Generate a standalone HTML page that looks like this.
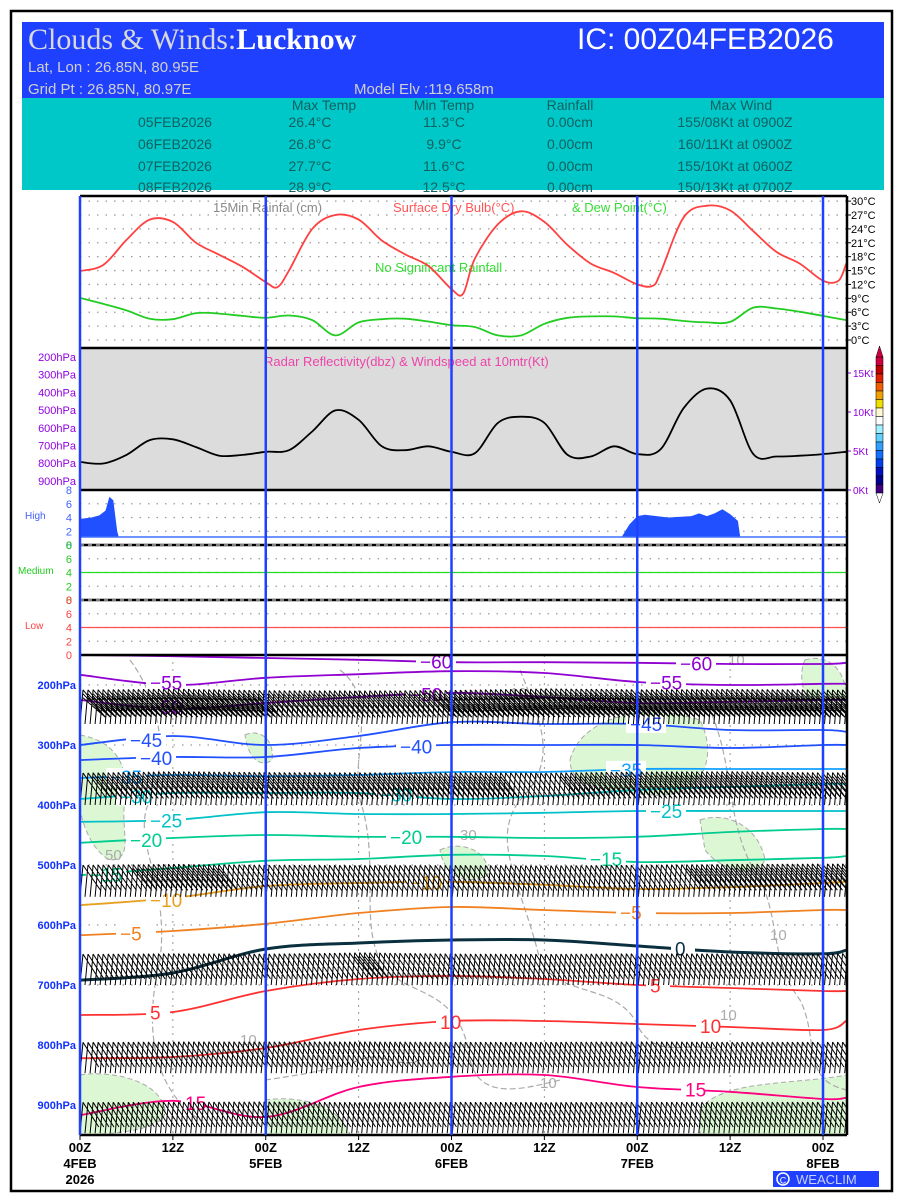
<!DOCTYPE html>
<html><head><meta charset="utf-8"><title>Clouds & Winds: Lucknow</title>
<style>
html,body{margin:0;padding:0;background:#fff;}
svg{display:block;}
text{font-family:"Liberation Sans",sans-serif;}
</style></head>
<body>
<svg id="chart" width="900" height="1200" viewBox="0 0 900 1200" xmlns="http://www.w3.org/2000/svg">
<defs><clipPath id="clipBottom"><rect x="80" y="655" width="767" height="480"/></clipPath></defs>
<rect x="11" y="11" width="881" height="1180" fill="#fff" stroke="#000" stroke-width="2.5"/>
<g>
<rect x="22" y="22" width="862" height="76" fill="#2040ff"/>
<rect x="22" y="98" width="862" height="92" fill="#00c8c8"/>
<text x="28" y="49" font-size="30" fill="#d8d8d8" style="font-family:'Liberation Serif',serif">Clouds &amp; Winds:<tspan fill="#fff" font-weight="bold">Lucknow</tspan></text>
<text x="577" y="49" font-size="30" fill="#fff">IC: 00Z04FEB2026</text>
<text x="28" y="72" font-size="15" fill="#d0d0d0">Lat, Lon : 26.85N, 80.95E</text>
<text x="28" y="94" font-size="15" fill="#d0d0d0">Grid Pt   : 26.85N, 80.97E</text>
<text x="354" y="94" font-size="15" fill="#d0d0d0">Model Elv :119.658m</text>
<g font-size="14" fill="#106060" text-anchor="middle">
<text x="324" y="110">Max Temp</text><text x="444" y="110">Min Temp</text><text x="570" y="110">Rainfall</text><text x="741" y="110">Max Wind</text>
<text x="175" y="127">05FEB2026</text><text x="310" y="127">26.4°C</text><text x="444" y="127">11.3°C</text><text x="570" y="127">0.00cm</text><text x="735" y="127">155/08Kt at 0900Z</text>
<text x="175" y="149">06FEB2026</text><text x="310" y="149">26.8°C</text><text x="444" y="149">9.9°C</text><text x="570" y="149">0.00cm</text><text x="735" y="149">160/11Kt at 0900Z</text>
<text x="175" y="171">07FEB2026</text><text x="310" y="171">27.7°C</text><text x="444" y="171">11.6°C</text><text x="570" y="171">0.00cm</text><text x="735" y="171">155/10Kt at 0600Z</text>
<text x="175" y="192">08FEB2026</text><text x="310" y="192">28.9°C</text><text x="444" y="192">12.5°C</text><text x="570" y="192">0.00cm</text><text x="735" y="192">150/13Kt at 0700Z</text>
</g>
</g>
<g id="plots"></g>
</svg>
<script>
// ---- data ----
const tempHours = [0,3,6,9,12,15,18,21,24,25.5,27,30,33,36,39,42,45,48,49.5,51,54,57,60,63,66,69,72,74,75,78,81,84,87,90,93,96,98,99];
const dryBulb   = [14.9,16.2,21.6,26,25.5,21,18.4,15.8,12.5,11.4,15,24,27,26,21.5,18.5,16,11.0,10.0,17.5,25,27.8,25.5,20.5,16.5,14.5,12.0,11.7,14.5,26.5,29.0,28,23.5,19,16.5,12.8,12.8,16.5];
const dewHours  = [0,3,6,9,12,15,18,21,24,27,30,33,36,39,42,45,48,51,54,57,60,63,66,69,72,75,78,81,84,87,90,93,96,99];
const dewPoint  = [9.1,7.8,6.4,4.6,4.5,5.8,5.7,5.2,4.8,5.3,4.3,1.0,3.8,4.5,4.6,4.0,3.2,2.8,1.0,1.0,3.5,4.8,5.1,5.1,4.7,4.6,4.1,3.8,3.9,7.0,6.8,6.1,5.2,4.3];
const windHours = dewHours;
const wind10m   = [3.6,3.4,4.5,6.4,6.5,5.5,4.4,4.5,4.9,5.1,7.5,10.2,9.0,5.6,5.1,5.6,4.9,4.7,8.6,9.4,8.6,4.5,4.3,5.6,4.6,5.2,10.5,13.0,11.5,4.6,4.3,4.4,4.6,4.9];
const highHours = [0,1.5,2.5,3.3,3.8,4.3,4.8,5.0,70,71,72,73,76,79,80,81,82,83,84,85,85.3];
const highCloud = [3.8,4.0,4.3,5.0,7.0,6.5,2.0,1.2,1.2,3.0,4.2,4.4,4.0,4.2,4.6,4.2,4.6,5.2,4.5,3.5,1.2];
const isoHours  = [0,12,24,36,48,60,72,84,96,99];
const isoLevels = [-60,-55,-50,-45,-40,-35,-30,-25,-20,-15,-10,-5,0,5,10,15];
const iso_m60 = [150,152,155,158,162,162,163,165,165,163];
const iso_m55 = [183,200,188,182,177,180,195,200,198,198];
const iso_m50 = [225,240,230,220,213,220,230,228,225,225];
const iso_m45 = [300,285,300,285,262,265,265,275,275,278];
const iso_m40 = [325,320,320,305,300,300,300,305,300,300];
const iso_m35 = [355,350,352,350,345,345,340,340,340,340];
const iso_m30 = [390,380,380,380,390,385,375,370,365,365];
const iso_m25 = [428,425,412,415,415,413,410,410,410,410];
const iso_m20 = [463,455,450,453,453,455,453,445,440,440];
const iso_m15 = [517,505,493,490,483,485,495,492,488,485];
const iso_m10 = [567,555,535,530,528,533,540,537,530,528];
const iso_m5  = [617,610,598,580,570,575,580,580,575,575];
const iso_0   = [692,680,640,630,625,625,635,645,648,642];
const iso_5   = [750,745,710,690,685,690,700,705,710,710];
const iso_10  = [822,820,805,775,760,760,765,770,775,760];
const iso_15  = [917,893,920,870,853,850,870,878,890,888];
const barbLevels = [265,400,553,700,847,947];
const barbHours  = [0,12,24,36,48,60,72,84,96,99];
const barb265 = [70,85,60,55,65,90,75,80,70,70];
const barb400 = [35,60,45,40,40,35,55,60,40,40];
const barb553 = [30,45,30,25,25,20,30,45,50,50];
const barb700 = [15,25,20,40,20,15,25,20,20,30];
const barb850 = [15,25,25,25,20,20,25,20,20,20];
const barb947 = [15,20,25,15,20,15,20,20,20,25];
const tempTicks = [0,3,6,9,12,15,18,21,24,27,30];
const pressTicks = [200,300,400,500,600,700,800,900];
const windTicks = [0,5,10,15];
const dayLabels = ['4FEB','5FEB','6FEB','7FEB','8FEB'];
// ---- scales ----
const NS='http://www.w3.org/2000/svg';
const X0=80, X1=847;
const X=h=>X0+h*(823-X0)/96;
const YT=t=>340-t*4.63;
const YW=k=>490-k*7.8;
const YP=p=>655+(p-150)*0.6;
const YH=o=>545-o*6.875;
const g=document.getElementById('plots');
function el(tag,attrs,parent){const e=document.createElementNS(NS,tag);for(const k in attrs)e.setAttribute(k,attrs[k]);(parent||g).appendChild(e);return e;}
function txt(x,y,s,attrs,parent){const e=el('text',Object.assign({x:x,y:y},attrs),parent);e.textContent=s;return e;}
function interp(hs,vs,h){if(h<=hs[0])return vs[0];for(let i=1;i<hs.length;i++){if(h<=hs[i]){const f=(h-hs[i-1])/(hs[i]-hs[i-1]);return vs[i-1]+f*(vs[i]-vs[i-1]);}}return vs[vs.length-1];}
function line(hs,vs,fy){return hs.map((h,i)=>(i?'L':'M')+X(h).toFixed(1)+' '+fy(vs[i]).toFixed(1)).join(' ');}
function smooth(hs,vs,fy){const P=hs.map((h,i)=>[X(h),fy(vs[i])]);let d=`M${P[0][0].toFixed(1)} ${P[0][1].toFixed(1)}`;
 for(let i=0;i<P.length-1;i++){const p0=P[i-1]||P[i],p1=P[i],p2=P[i+1],p3=P[i+2]||p2;
  const c1=[p1[0]+(p2[0]-p0[0])/6,p1[1]+(p2[1]-p0[1])/6],c2=[p2[0]-(p3[0]-p1[0])/6,p2[1]-(p3[1]-p1[1])/6];
  d+=`C${c1[0].toFixed(1)} ${c1[1].toFixed(1)} ${c2[0].toFixed(1)} ${c2[1].toFixed(1)} ${p2[0].toFixed(1)} ${p2[1].toFixed(1)}`;}return d;}

const radarBg=el('rect',{x:X0,y:348,width:X1-X0,height:142,fill:'#dcdcdc'});



let dots='';
for(const t of tempTicks){dots+=`M${X0} ${YT(t)}H${X1}`;}
for(let b of [490,545,600]){for(const o of [2,4,6]){dots+=`M${X0} ${b+55-o*6.875}H${X1}`;}}
for(const p of pressTicks){dots+=`M${X0} ${YP(p)}H${X1}`;}
const grid=el('path',{d:dots,stroke:'#999',"stroke-width":1.3,"stroke-dasharray":'1.5 7',fill:'none'});


let vd='';for(const h of [12,36,60,84]){vd+=`M${X(h)} 655V1135`;}
const vgrid=el('path',{d:vd,stroke:'#999',"stroke-width":1,"stroke-dasharray":'2 5'});



txt(213,212,'15Min Rainfal (cm)',{"font-size":13,fill:'#888'});
txt(393,212,'Surface Dry Bulb(°C)',{"font-size":13,fill:'#ff5555'});
txt(572,212,'& Dew Point(°C)',{"font-size":13,fill:'#33dd33'});
txt(375,272,'No Significant Rainfall',{"font-size":13,fill:'#33dd33'});
const dry=el('path',{d:smooth(tempHours,dryBulb,YT),stroke:'#ff4040',"stroke-width":1.8,fill:'none'});


const dew=el('path',{d:smooth(dewHours,dewPoint,YT),stroke:'#22cc22',"stroke-width":1.8,fill:'none'});


for(const t of tempTicks){const tl=txt(851,YT(t)+4,t+'°C',{"font-size":11,fill:'#000'});el('path',{d:`M${X1} ${YT(t)}h4`,stroke:'#000'});}

txt(264,366,'Radar Reflectivity(dbz) & Windspeed at 10mtr(Kt)',{"font-size":13,fill:'#ee44aa'});
const w=el('path',{d:smooth(windHours,wind10m,YW),stroke:'#000',"stroke-width":1.8,fill:'none'});


for(const k of windTicks){const tl=txt(853,YW(k)+4,k+'Kt',{"font-size":10,fill:'#9000e0'});el('path',{d:`M${X1} ${YW(k)}h4`,stroke:'#9000e0'});}
pressTicks.forEach((p,i)=>{const y=357+i*17.7;const tl=txt(76,y+4,p+'hPa',{"font-size":11,fill:'#9000e0',"text-anchor":'end'});});
const cbCols=['#d00040','#c00000','#e02000','#f06000','#f0a000','#f0e000','#fff8d0','#ffffff','#a0f0ff','#60d0ff','#30a0ff','#1070ff','#0040f0','#0010c0','#000090','#400080'];
cbCols.forEach((c,i)=>{el('rect',{x:876,y:357+i*8.5,width:7,height:8.5,fill:c,stroke:'#000',"stroke-width":0.5});});
el('path',{d:'M876 357 L879.5 346 L883 357 Z',fill:'#d00040',stroke:'#000',"stroke-width":0.5});
el('path',{d:'M876 493 L879.5 503 L883 493 Z',fill:'#fff',stroke:'#000',"stroke-width":0.5});

const hiPath='M'+X(highHours[0])+' 537 '+line(highHours,highCloud,YH).replace('M','L')+' L'+X(highHours[highHours.length-1])+' 537 Z';
const hi=el('path',{d:hiPath,fill:'#2050ff'});


el('path',{d:`M${X0} 537H${X1}`,stroke:'#4070ff',"stroke-width":1.5});
el('path',{d:`M${X0} 572.5H${X1}`,stroke:'#22dd22',"stroke-width":1.3});
el('path',{d:`M${X0} 627.5H${X1}`,stroke:'#ff5050',"stroke-width":1.3});
const cl=[['High','#4060ff',490],['Medium','#22cc22',545],['Low','#ff4040',600]];
cl.forEach(([n,c,b])=>{const t=txt(n=='Medium'?18:25,b+29,n,{"font-size":10,fill:c});
 [8,6,4,2,0].forEach(o=>{txt(72,b+55-o*6.875+4,String(o),{"font-size":11,fill:c,"text-anchor":'end'});});});

const bot=el('g',{"clip-path":'url(#clipBottom)'});
const blobs=['M80 735 C110 740 130 760 125 800 C120 830 135 860 110 860 C90 850 82 820 80 810Z',
'M245 735 C260 728 275 740 272 760 C262 768 248 760 245 735Z',
'M570 760 C580 720 640 700 700 720 C720 760 700 800 650 795 C610 790 570 790 570 760Z',
'M700 820 C730 810 760 830 765 860 C755 880 720 870 705 850Z',
'M440 850 C460 840 490 850 488 875 C470 885 445 880 440 850Z',
'M80 1075 C110 1070 160 1080 165 1110 C168 1135 80 1135 80 1135Z',
'M265 1100 C300 1095 340 1105 350 1135 L265 1135Z',
'M700 1110 C720 1080 790 1085 847 1075 L847 1135 L700 1135Z',
'M805 660 C820 655 845 660 847 700 L810 700 C800 690 800 670 805 660Z'];
blobs.forEach(d=>{const b=el('path',{d:d,fill:'#dcf7d4',stroke:'#aaa',"stroke-width":1,"stroke-dasharray":'5 3'},bot);});
const rh=['M130 660 C160 700 170 760 150 800 C130 840 170 880 160 960 C150 1000 140 1080 200 1120',
'M340 670 C380 700 350 760 360 800 C380 860 360 920 380 960 C400 1000 460 980 470 1060 C480 1100 520 1090 560 1080',
'M520 670 C540 720 560 760 520 800 C490 840 520 880 540 960 C560 1000 620 980 640 1030 C660 1060 690 1040 720 1050',
'M700 690 C740 760 720 820 760 880 C780 920 770 960 800 1000 C820 1040 800 1080 847 1090',
'M265 1080 C300 1075 330 1070 360 1060 C380 1050 400 1070 420 1060'];
rh.forEach(d=>{const r=el('path',{d:d,fill:'none',stroke:'#aaa',"stroke-width":1.2,"stroke-dasharray":'6 3'},bot);});
[['10',645,722],['10',510,698],['30',460,840],['50',105,860],['10',540,1088],['10',720,1020],['10',770,940],['10',240,1045],['10',728,665]].forEach(([s,x,y])=>txt(x,y,s,{"font-size":15,fill:'#aaa'},bot));

const isoData=[iso_m60,iso_m55,iso_m50,iso_m45,iso_m40,iso_m35,iso_m30,iso_m25,iso_m20,iso_m15,iso_m10,iso_m5,iso_0,iso_5,iso_10,iso_15];
const isoCol=['#9000d0','#9000d0','#9000d0','#2050ff','#2050ff','#10a0ff','#00c8d0','#00c0c8','#00cc90','#00cc90','#e8a020','#f08020','#0a3040','#ff3030','#ff3030','#ff0080'];
const isoLab=[420,150,150,130,140,110,120,150,130,90,150,120,675,150,440,185];
isoData.forEach((arr,i)=>{
 const p=el('path',{d:smooth(isoHours,arr,YP),stroke:isoCol[i],"stroke-width":isoLevels[i]==0?3:1.8,fill:'none'},bot);
 
 
 [isoLab[i], isoLab[i]+(i%2?500:260)].forEach(lx=>{ if(lx>X1-20)return;
  const h=(lx-X0)/((823-X0)/96);const y=YP(interp(isoHours,arr,h));
  el('rect',{x:lx-4,y:y-9,width:isoLevels[i]<0?40:24,height:18,fill:'#fff'},bot);
  const t=txt(lx,y+7,(isoLevels[i]<0?'−':'')+Math.abs(isoLevels[i]),{"font-size":19,fill:isoCol[i]},bot);
  
  });
});

const barbData=[barb265,barb400,barb553,barb700,barb850,barb947];
barbData.forEach((arr,li)=>{
 let d='';const yb=YP(barbLevels[li]);
 for(let h=0;h<=99;h+=0.65){const s=interp(barbHours,arr,h);const x=X(h);
  const L=30+s*0.06;const tx=x+3, ty=yb-L;
  d+=`M${x.toFixed(1)} ${yb.toFixed(1)}L${tx.toFixed(1)} ${ty.toFixed(1)}`;
  const n=Math.min(3,Math.max(1,Math.round(s/25)));
  for(let k=0;k<n;k++){const fy=ty+k*4;const fl=14+s*0.12;d+=`M${tx.toFixed(1)} ${fy.toFixed(1)}l${fl.toFixed(1)} ${(L*0.8-k*4).toFixed(1)}`;}
 }
 const b=el('path',{d:d,stroke:'#000',"stroke-width":1,fill:'none'},bot);
 
 
});

pressTicks.forEach(p=>{const t=txt(76,YP(p)+4,p+'hPa',{"font-size":11,fill:'#1030ff',"font-weight":'bold',"text-anchor":'end'});});

let fr='';
for(const y of [196,348,490,545,600,655,1135])fr+=`M${X0} ${y}H${X1}`;
el('path',{d:fr,stroke:'#000',"stroke-width":2.5});
el('path',{d:`M${X0} 545H${X1}M${X0} 600H${X1}`,stroke:'#fff',"stroke-width":1,"stroke-dasharray":'4 4'});
el('path',{d:`M${X1} 196V1135`,stroke:'#000',"stroke-width":2.5});
let vl='';for(const h of [0,24,48,72,96])vl+=`M${X(h)} 196V1135`;
const days=el('path',{d:vl,stroke:'#2040ff',"stroke-width":2.5});



for(let h=0;h<=96;h+=12){const x=X(h);el('path',{d:`M${x} 1135v5`,stroke:'#000'});
 const t=txt(x,1152,h%24?'12Z':'00Z',{"font-size":13,"font-weight":'bold',"text-anchor":'middle'});
 
 
 if(h%24==0){txt(x,1168,dayLabels[h/24],{"font-size":13,"font-weight":'bold',"text-anchor":'middle'});}}
txt(X(0),1184,'2026',{"font-size":13,"font-weight":'bold',"text-anchor":'middle'});
const wb=el('rect',{x:773,y:1171,width:106,height:16,fill:'#2040ff'});


el('circle',{cx:783,cy:1179,r:6,fill:'none',stroke:'#fff',"stroke-width":1.5});
txt(783,1183.5,'C',{"font-size":9,fill:'#fff',"text-anchor":'middle'});
txt(796,1184,'WEACLIM',{"font-size":13,fill:'#c8d0ff'});
</script>
</body></html>
